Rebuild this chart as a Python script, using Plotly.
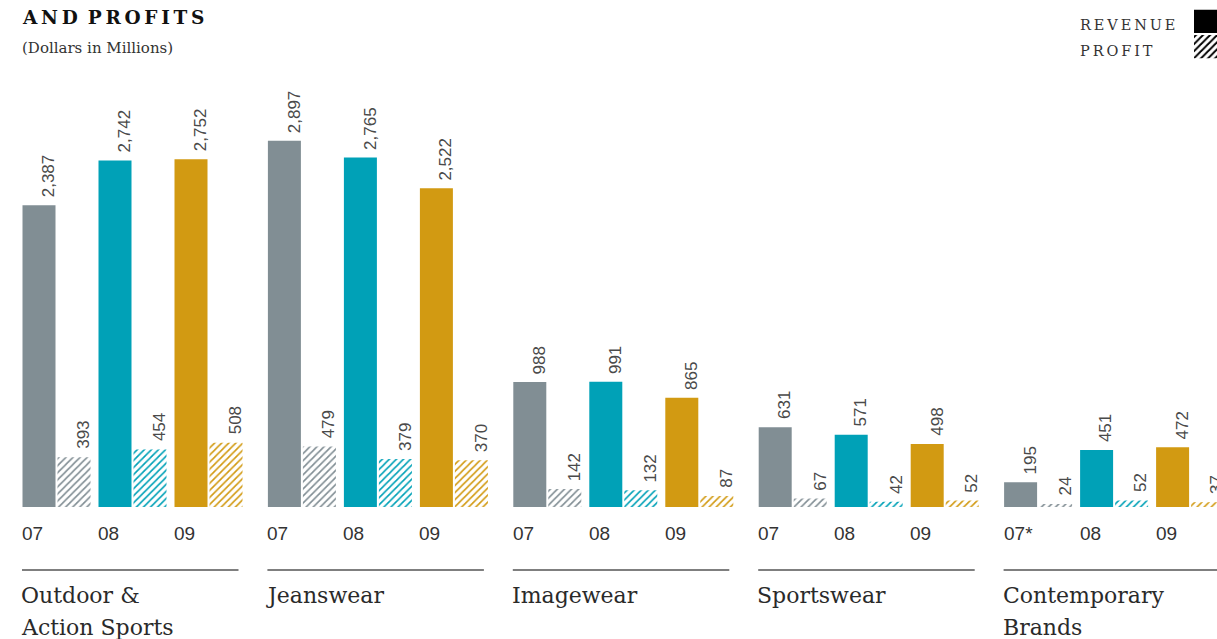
import plotly.graph_objects as go

# ---- data (Dollars in Millions) ----
segments = [["Outdoor &", "Action Sports"], ["Jeanswear"], ["Imagewear"],
            ["Sportswear"], ["Contemporary", "Brands"]]
years = ["07", "08", "09"]
year_labels_last = ["07*", "08", "09"]
revenue_outdoor = [2387, 2742, 2752]
revenue_jeans = [2897, 2765, 2522]
revenue_image = [988, 991, 865]
revenue_sports = [631, 571, 498]
revenue_contemp = [195, 451, 472]
profit_outdoor = [393, 454, 508]
profit_jeans = [479, 379, 370]
profit_image = [142, 132, 87]
profit_sports = [67, 42, 52]
profit_contemp = [24, 52, 37]

revenue = [revenue_outdoor, revenue_jeans, revenue_image, revenue_sports, revenue_contemp]
profit = [profit_outdoor, profit_jeans, profit_image, profit_sports, profit_contemp]
year_colors = ["#818E94", "#00A1B7", "#D29A12"]

# ---- layout geometry (x axis measured in pixels) ----
W, H = 1217, 639
X0 = 22.5        # left edge of first group
GROUP = 245.4    # group pitch
PAIR = 76        # year pitch inside a group
BAR = 33         # bar width
GAP = 2          # gap between revenue and profit bars
BASE_PX = 507    # baseline pixel row
PX_PER_UNIT = 0.1264
y_dom0 = (H - BASE_PX) / H
y_max = BASE_PX / PX_PER_UNIT

def py(px_row):
    return (H - px_row) / H

fig = go.Figure()
annotations = []
shapes = []
num_font = dict(family="Liberation Sans, Arial, sans-serif", size=17, color="#4a4a4a")
serif = "DejaVu Serif, serif"

for g, seg in enumerate(segments):
    gx = X0 + GROUP * g
    for yi, yr in enumerate(years):
        sx = gx + PAIR * yi
        col = year_colors[yi]
        rx = sx + BAR / 2
        px = sx + BAR + GAP + BAR / 2
        rv = revenue[g][yi]
        pv = profit[g][yi]
        fig.add_trace(go.Bar(x=[rx], y=[rv], width=[BAR], marker=dict(color=col, line=dict(width=0)),
                             showlegend=False, hoverinfo="skip"))
        fig.add_trace(go.Bar(x=[px], y=[pv], width=[BAR],
                             marker=dict(color="white", line=dict(width=0),
                                         pattern=dict(shape="/", fgcolor=col, bgcolor="white",
                                                      size=5, solidity=0.33, fillmode="replace")),
                             showlegend=False, hoverinfo="skip"))
        for cx, v in ((rx, rv), (px, pv)):
            annotations.append(dict(x=cx, y=v, xref="x", yref="y", text=f"{v:,}", textangle=-90,
                                    showarrow=False, xanchor="left", yanchor="bottom", yshift=6,
                                    xshift=-2, font=num_font))
        lbl = year_labels_last[yi] if g == len(segments) - 1 else yr
        annotations.append(dict(x=sx - 2.5, y=py(533), xref="x", yref="paper", text=lbl, showarrow=False,
                                xanchor="left", yanchor="middle",
                                font=dict(family="Liberation Sans, Arial, sans-serif", size=19, color="#333")))
    shapes.append(dict(type="line", xref="x", yref="paper", x0=gx - 0.5, x1=gx + 216, y0=py(570), y1=py(570),
                       line=dict(color="#555", width=1.5)))
    for li, line in enumerate(seg):
        annotations.append(dict(x=gx - 3.5, y=py(595 + 32 * li), xref="x", yref="paper", text=line,
                                showarrow=False, xanchor="left", yanchor="middle",
                                font=dict(family=serif, size=22, color="#2a2a2a")))

# ---- title, subtitle, legend text ----
ts = "\u2009"
annotations.append(dict(x=20, y=py(17), xref="x", yref="paper",
                        text="<b>" + ts.join("AND") + "\u00a0\u2009" + ts.join("PROFITS") + "</b>",
                        showarrow=False, xanchor="left", yanchor="middle",
                        font=dict(family=serif, size=18.5, color="#111")))
annotations.append(dict(x=20, y=py(48), xref="x", yref="paper", text="(Dollars in Millions)",
                        showarrow=False, xanchor="left", yanchor="middle",
                        font=dict(family=serif, size=15, color="#333")))
for txt, row in (("REVENUE", 25), ("PROFIT", 51)):
    annotations.append(dict(x=1078, y=py(row), xref="x", yref="paper", text=ts.join(txt),
                            showarrow=False, xanchor="left", yanchor="middle",
                            font=dict(family=serif, size=14.5, color="#333")))

# legend swatches
fig.add_trace(go.Bar(x=[1], y=[1], orientation="h", width=[0.92], xaxis="x2", yaxis="y2",
                     marker=dict(color="black", line=dict(width=0)), showlegend=False, hoverinfo="skip"))
fig.add_trace(go.Bar(x=[1], y=[0], orientation="h", width=[0.92], xaxis="x2", yaxis="y2",
                     marker=dict(color="white", line=dict(width=0),
                                 pattern=dict(shape="/", fgcolor="black", bgcolor="white",
                                              size=5, solidity=0.4, fillmode="replace")),
                     showlegend=False, hoverinfo="skip"))

fig.update_layout(
    width=W, height=H, margin=dict(l=0, r=0, t=0, b=0),
    paper_bgcolor="white", plot_bgcolor="white", barmode="overlay",
    xaxis=dict(range=[0, W], domain=[0, 1], visible=False, fixedrange=True),
    yaxis=dict(range=[0, y_max], domain=[y_dom0, 1], visible=False, fixedrange=True),
    xaxis2=dict(range=[0, 1], domain=[1194 / W, 1], visible=False, anchor="y2"),
    yaxis2=dict(range=[-0.5, 1.5], domain=[py(58) - 0.002, py(10) + 0.002], visible=False, anchor="x2"),
    annotations=annotations, shapes=shapes, showlegend=False,
)

fig.write_html("out.html")
